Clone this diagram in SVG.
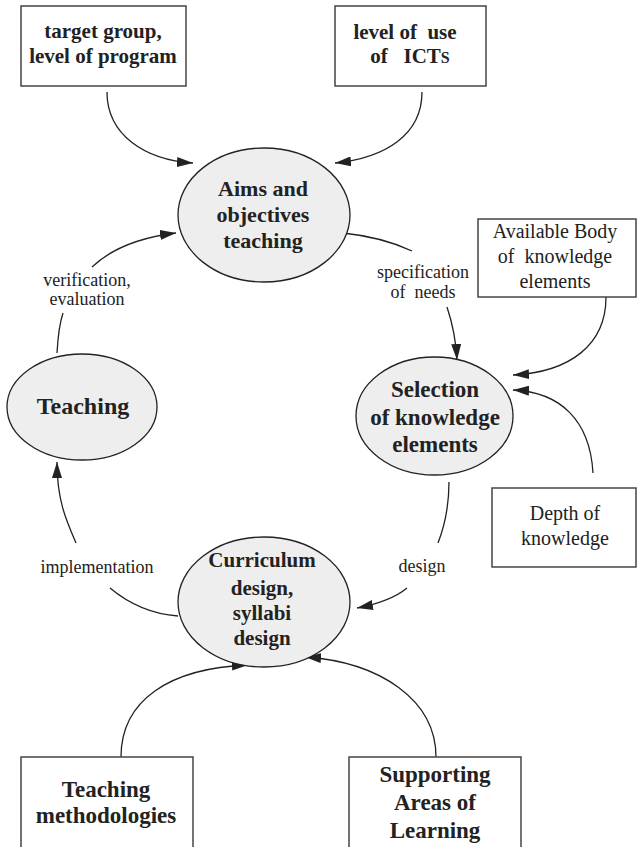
<svg xmlns="http://www.w3.org/2000/svg" width="637" height="847" viewBox="0 0 637 847">
  <style>
    .box { fill: #ffffff; stroke: #444; stroke-width: 1.5; }
    .node { fill: #eeeeee; stroke: #222; stroke-width: 1.3; }
    .t { font-family: "Liberation Serif", "Times New Roman", serif; fill: #222; text-anchor: middle; }
    .b { font-weight: bold; }
    .lbl { font-size: 18px; }
    .edge { fill: none; stroke: #222; stroke-width: 1.3; }
  </style>
  <defs>
    <marker id="arrow" viewBox="0 0 16 10" refX="16" refY="5" markerWidth="16" markerHeight="10" markerUnits="userSpaceOnUse" orient="auto">
      <path d="M0,0 L16,5 L0,10 Z" fill="#222"/>
    </marker>
  </defs>
  <rect width="637" height="847" fill="#ffffff"/>

  <!-- connectors -->
  <g id="connectors">
    <path class="edge" d="M107,92 C107,135 145,160 193,163" marker-end="url(#arrow)"/>
    <path class="edge" d="M422,92 C422,135 385,158 335,163" marker-end="url(#arrow)"/>
    <path class="edge" d="M343,233 C372,236 395,243 412,251"/>
    <path class="edge" d="M447,307 C452,322 456,340 457,360" marker-end="url(#arrow)"/>
    <path class="edge" d="M606,297 C606,345 570,372 513,375" marker-end="url(#arrow)"/>
    <path class="edge" d="M593,473 C590,420 560,392 513,390" marker-end="url(#arrow)"/>
    <path class="edge" d="M449,482 C449,505 445,525 438,543"/>
    <path class="edge" d="M407,588 C395,598 378,604 357,608" marker-end="url(#arrow)"/>
    <path class="edge" d="M178,616 C150,614 128,603 110,588"/>
    <path class="edge" d="M76,543 C66,520 57,500 57,462" marker-end="url(#arrow)"/>
    <path class="edge" d="M57,353 C58,335 60,322 63,313"/>
    <path class="edge" d="M92,267 C110,250 135,238 176,233" marker-end="url(#arrow)"/>
    <path class="edge" d="M121,757 C121,700 170,668 248,665" marker-end="url(#arrow)"/>
    <path class="edge" d="M436,757 C436,700 380,662 305,657" marker-end="url(#arrow)"/>
    <text class="t lbl" x="423" y="278">specification</text>
    <text class="t lbl" x="423" y="298" style="white-space:pre">of  needs</text>
    <text class="t lbl" x="422" y="572">design</text>
    <text class="t lbl" x="97" y="573">implementation</text>
    <text class="t lbl" x="87" y="286">verification,</text>
    <text class="t lbl" x="87" y="305">evaluation</text>
  </g>

  <g id="target-group">
    <rect class="box" x="21" y="6" width="165" height="80"/>
    <text class="t b" x="103" y="38" font-size="21">target group,</text>
    <text class="t b" x="103" y="63" font-size="21">level of program</text>
  </g>

  <g id="ict-use">
    <rect class="box" x="335" y="6" width="151" height="80"/>
    <text class="t b" x="405" y="39" font-size="21" style="white-space:pre">level of  use</text>
    <text class="t b" x="410" y="63" font-size="21" style="white-space:pre">of   ICT<tspan font-size="16">S</tspan></text>
  </g>

  <g id="aims">
    <ellipse class="node" cx="264" cy="215" rx="86" ry="67"/>
    <text class="t b" x="263" y="196" font-size="22">Aims and</text>
    <text class="t b" x="263" y="222" font-size="22">objectives</text>
    <text class="t b" x="263" y="248" font-size="22">teaching</text>
  </g>

  <g id="knowledge-body">
    <rect class="box" x="478" y="219" width="158" height="78"/>
    <text class="t" x="555" y="238" font-size="20">Available Body</text>
    <text class="t" x="555" y="263" font-size="20" style="white-space:pre">of  knowledge</text>
    <text class="t" x="555" y="288" font-size="20">elements</text>
  </g>

  <g id="selection">
    <ellipse class="node" cx="434.5" cy="416" rx="78.5" ry="59"/>
    <text class="t b" x="435" y="397" font-size="23">Selection</text>
    <text class="t b" x="435" y="425" font-size="23">of knowledge</text>
    <text class="t b" x="435" y="452" font-size="23">elements</text>
  </g>

  <g id="depth">
    <rect class="box" x="492" y="488" width="144" height="79"/>
    <text class="t" x="565" y="520" font-size="20">Depth of</text>
    <text class="t" x="565" y="545" font-size="20">knowledge</text>
  </g>

  <g id="teaching">
    <ellipse class="node" cx="82" cy="407" rx="75" ry="53"/>
    <text class="t b" x="83" y="414" font-size="24">Teaching</text>
  </g>

  <g id="curriculum">
    <ellipse class="node" cx="264" cy="602" rx="86" ry="65"/>
    <text class="t b" x="262" y="567" font-size="21">Curriculum</text>
    <text class="t b" x="262" y="595" font-size="21">design,</text>
    <text class="t b" x="262" y="620" font-size="21">syllabi</text>
    <text class="t b" x="262" y="645" font-size="21">design</text>
  </g>

  <g id="methodologies">
    <rect class="box" x="21" y="757" width="172" height="100"/>
    <text class="t b" x="106" y="797" font-size="23">Teaching</text>
    <text class="t b" x="106" y="823" font-size="23">methodologies</text>
  </g>

  <g id="supporting-areas">
    <rect class="box" x="349" y="757" width="172" height="100"/>
    <text class="t b" x="435" y="782" font-size="23">Supporting</text>
    <text class="t b" x="435" y="810" font-size="23">Areas of</text>
    <text class="t b" x="435" y="838" font-size="23">Learning</text>
  </g>
</svg>
